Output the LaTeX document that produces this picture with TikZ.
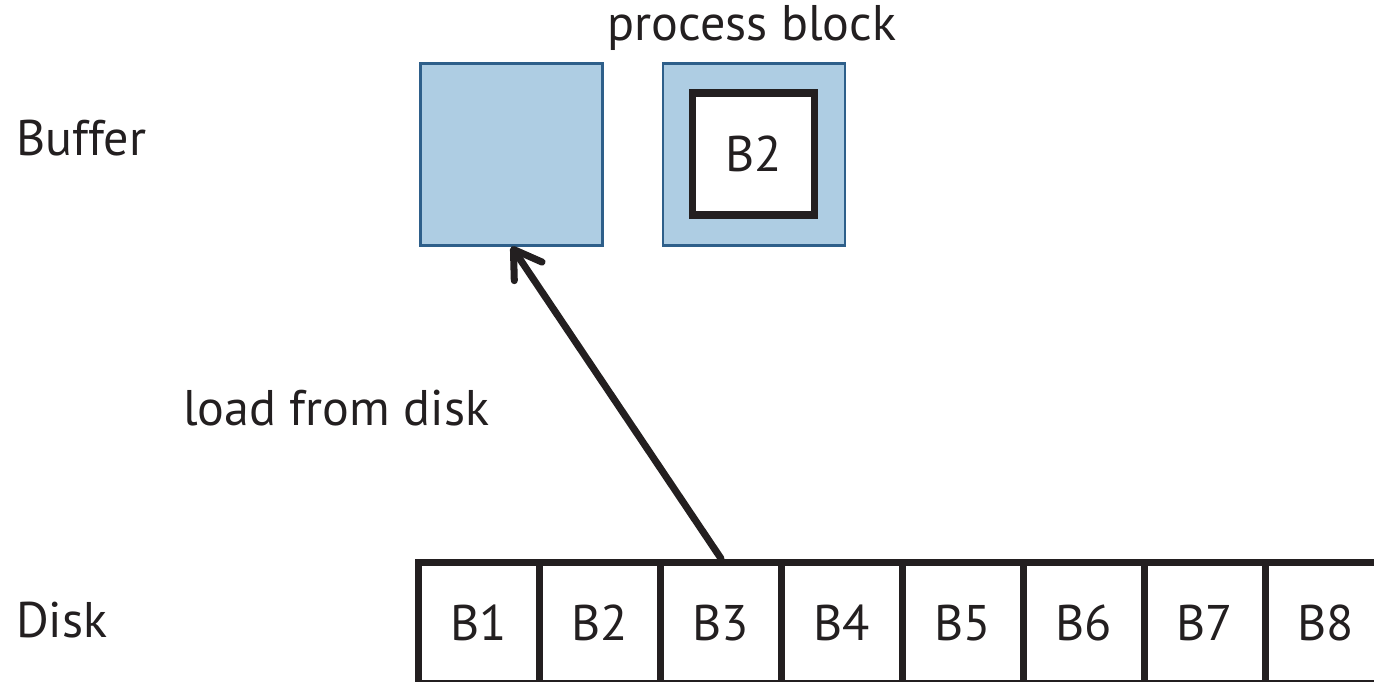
\documentclass[tikz,border=0pt]{standalone}
\usepackage{fontspec}
\setmainfont{PT Sans}
\usetikzlibrary{arrows.meta}

\definecolor{bufblue}{HTML}{AECDE3}
\definecolor{bufedge}{HTML}{2E5F8A}
\definecolor{ink}{HTML}{231F20}

\begin{document}
\begin{tikzpicture}[x=0.02cm,y=-0.02cm,
    every node/.style={text=ink,font=\fontsize{28.5}{32}\selectfont},
    buf/.style={draw=bufedge,fill=bufblue,line width=1.2pt,minimum size=3.64cm,inner sep=0pt},
    blk/.style={draw=ink,fill=white,line width=4.2pt,minimum size=2.44cm,inner sep=0pt},
    cell/.style={draw=ink,line width=4pt,minimum width=2.42cm,minimum height=2.44cm,inner sep=0pt}
   ]
  \useasboundingbox (0,0) rectangle (1374,681);
  % buffer
  \node[buf] (buf1) at (511.5,154.5) {};
  \node[buf] (buf2) at (753.8,154.5) {};
  \node[blk] (proc) at (753.5,154) {B2};
  \node (ptext) at (752,28) {process block};
  \node[anchor=west] (buflabel) at (10,138) {Buffer};
  % disk
  \foreach \i in {1,...,8}
    \node[cell] (c\i) at (479+121*\i-121,623) {B\i};
  \node[anchor=west] (disklabel) at (10,620) {Disk};
  % load
  \node[anchor=west] (loadlabel) at (177,408) {load from disk};
  \draw[ink,line width=4pt,line cap=round,
        -{Straight Barb[length=15pt,width=19pt,line width=4pt,round]}]
    (c3.north) -- (buf1.south);
\end{tikzpicture}
\end{document}
